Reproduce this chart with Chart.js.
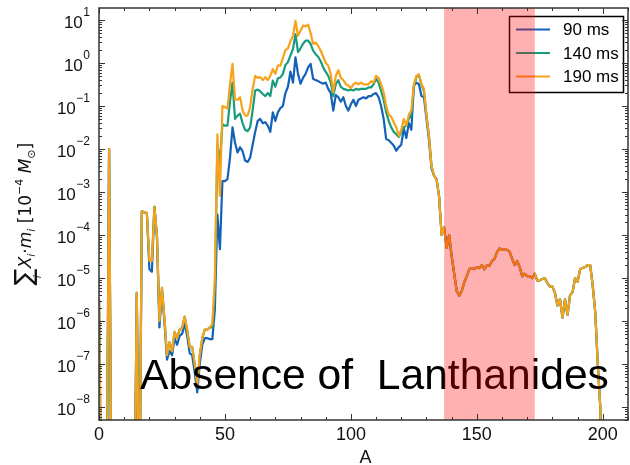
<!DOCTYPE html>
<html>
<head>
<meta charset="utf-8">
<script src="https://cdn.jsdelivr.net/npm/chart.js@4.4.1/dist/chart.umd.min.js"></script>
<style>
  html, body { margin: 0; padding: 0; background: #fff; }
</style>
</head>
<body>
<canvas id="chart" width="630" height="465"></canvas>
<script>
// mass number A (x axis)
const massNumbers = Array.from({ length: 201 }, (_, i) => i)

// sum X_i * m_i  [1e-4 Msun], one value per A
// 1e-11 means "below the axis"
const abund90 = [
  3.2e-6, 1e-11, 1e-11, 1e-11, 1.0e-2, 1e-11, 1e-11, 1e-11, 1e-11, 1e-11,
  1e-11, 1e-11, 1e-11, 1e-11, 1e-11, 4.5e-6, 1e-11, 3.5e-4, 3.4e-4, 3.2e-4,
  1.6e-5, 1.4e-5, 4.5e-4, 9.0e-5, 7.1e-7, 5.0e-6, 9.0e-7, 1.26e-7, 2.0e-7, 1.6e-7,
  4.0e-7, 2.8e-7, 4.5e-7, 5.0e-7, 8.9e-7, 4.5e-7, 1.8e-7, 1.6e-7, 6.3e-8, 2.2e-8,
  1.0e-7, 2.8e-7, 4.0e-7, 4.0e-7, 3.8e-7, 3.8e-7, 1.9e-6, 3.0e-4, 4.7e-5, 1.8e-3,
  1.8e-3, 2.0e-3, 6.3e-3, 0.032, 0.014, 8.3e-3, 0.011, 8.9e-3, 5.4e-3, 5.0e-3,
  6.3e-3, 0.0126, 0.025, 0.045, 0.050, 0.040, 0.042, 0.035, 0.025, 0.071,
  0.045, 0.071, 0.089, 0.10, 0.20, 0.28, 0.63, 0.35, 1.35, 0.56,
  0.33, 0.45, 0.56, 0.79, 0.95, 0.43, 0.40, 0.38, 0.35, 0.33,
  0.35, 0.25, 0.20, 0.078, 0.18, 0.16, 0.126, 0.16, 0.10, 0.078,
  0.11, 0.14, 0.10, 0.14, 0.15, 0.16, 0.15, 0.17, 0.17, 0.19,
  0.20, 0.16, 0.10, 0.050, 0.017, 0.016, 0.014, 0.012, 9.1e-3, 0.011,
  0.0126, 0.030, 0.018, 0.040, 0.028, 0.30, 0.35, 0.32, 0.17, 0.16,
  0.050, 0.016, 3.5e-3, 2.4e-3, 2.0e-3, 7.9e-4, 1.0e-4, 1.5e-4, 5.0e-5, 1.0e-4,
  3.2e-5, 1.26e-5, 5.0e-6, 3.9e-6, 5.0e-6, 7.9e-6, 1.1e-5, 1.6e-5, 1.7e-5, 1.6e-5,
  1.8e-5, 1.7e-5, 2.0e-5, 1.6e-5, 2.0e-5, 1.9e-5, 2.5e-5, 2.8e-5, 4.0e-5, 4.9e-5,
  4.5e-5, 4.7e-5, 4.5e-5, 4.1e-5, 2.8e-5, 2.0e-5, 2.5e-5, 1.8e-5, 1.1e-5, 1.26e-5,
  1.1e-5, 1.1e-5, 1.0e-5, 1.26e-5, 8.7e-6, 8.9e-6, 9.5e-6, 1.0e-5, 7.6e-6, 6.3e-6,
  6.3e-6, 4.5e-6, 2.3e-6, 3.2e-6, 1.2e-6, 3.2e-6, 1.4e-6, 4.0e-6, 4.7e-6, 1.0e-5,
  8.3e-6, 1.6e-5, 1.7e-5, 1.8e-5, 2.0e-5, 2.0e-5, 6.6e-6, 1.6e-6, 1.0e-7, 1.0e-8,
  1e-11
]

const abund140 = [
  3.2e-6, 1e-11, 1e-11, 1e-11, 1.0e-2, 1e-11, 1e-11, 1e-11, 1e-11, 1e-11,
  1e-11, 1e-11, 1e-11, 1e-11, 1e-11, 4.5e-6, 1e-11, 3.5e-4, 3.4e-4, 3.2e-4,
  2.5e-5, 2.5e-5, 4.5e-4, 1.0e-4, 1.0e-6, 5.9e-6, 1.1e-6, 1.6e-7, 3.2e-7, 2.0e-7,
  5.6e-7, 4.0e-7, 6.3e-7, 6.9e-7, 1.26e-6, 6.3e-7, 2.5e-7, 2.5e-7, 1.0e-7, 3.2e-8,
  1.6e-7, 4.0e-7, 6.3e-7, 6.3e-7, 7.1e-7, 7.1e-7, 5.0e-6, 1.26e-2, 5.0e-3, 0.038,
  0.035, 0.035, 0.126, 0.35, 0.050, 0.060, 0.066, 0.040, 0.028, 0.026,
  0.032, 0.079, 0.23, 0.24, 0.22, 0.19, 0.17, 0.20, 0.17, 0.39,
  0.28, 0.44, 0.46, 0.56, 0.89, 1.05, 1.5, 2.1, 4.7, 1.8,
  2.2, 2.8, 3.3, 3.3, 2.8, 1.95, 1.6, 1.4, 1.1, 0.79,
  0.62, 0.50, 0.35, 0.17, 0.32, 0.40, 0.28, 0.25, 0.24, 0.23,
  0.24, 0.23, 0.25, 0.24, 0.25, 0.25, 0.25, 0.27, 0.27, 0.32,
  0.43, 0.35, 0.22, 0.14, 0.071, 0.045, 0.032, 0.025, 0.022, 0.019,
  0.025, 0.032, 0.035, 0.050, 0.063, 0.28, 0.48, 0.52, 0.32, 0.22,
  0.060, 0.020, 4.0e-3, 2.4e-3, 2.0e-3, 7.9e-4, 1.0e-4, 1.5e-4, 5.0e-5, 1.0e-4,
  3.2e-5, 1.26e-5, 5.0e-6, 3.9e-6, 5.0e-6, 7.9e-6, 1.1e-5, 1.6e-5, 1.7e-5, 1.6e-5,
  1.8e-5, 1.7e-5, 2.0e-5, 1.6e-5, 2.0e-5, 1.9e-5, 2.5e-5, 2.8e-5, 4.0e-5, 4.9e-5,
  4.5e-5, 4.7e-5, 4.5e-5, 4.1e-5, 2.8e-5, 2.0e-5, 2.5e-5, 1.8e-5, 1.1e-5, 1.26e-5,
  1.1e-5, 1.1e-5, 1.0e-5, 1.26e-5, 8.7e-6, 8.9e-6, 9.5e-6, 1.0e-5, 7.6e-6, 6.3e-6,
  6.3e-6, 4.5e-6, 2.3e-6, 3.2e-6, 1.2e-6, 3.2e-6, 1.4e-6, 4.0e-6, 4.7e-6, 1.0e-5,
  8.3e-6, 1.6e-5, 1.7e-5, 1.8e-5, 2.0e-5, 2.0e-5, 6.6e-6, 1.6e-6, 1.0e-7, 1.0e-8,
  1e-11
]

const abund190 = [
  3.2e-6, 1e-11, 1e-11, 1e-11, 1.0e-2, 1e-11, 1e-11, 1e-11, 1e-11, 1e-11,
  1e-11, 1e-11, 1e-11, 1e-11, 1e-11, 4.5e-6, 1e-11, 3.5e-4, 3.4e-4, 3.2e-4,
  2.5e-5, 2.5e-5, 4.5e-4, 1.0e-4, 1.0e-6, 5.9e-6, 1.1e-6, 1.6e-7, 3.2e-7, 2.0e-7,
  5.6e-7, 4.0e-7, 6.3e-7, 6.9e-7, 1.26e-6, 6.3e-7, 2.5e-7, 2.5e-7, 1.0e-7, 3.2e-8,
  1.6e-7, 4.0e-7, 6.3e-7, 6.3e-7, 7.1e-7, 8.5e-7, 1.0e-5, 2.2e-2, 8.1e-4, 0.10,
  0.095, 0.087, 0.32, 0.95, 0.14, 0.14, 0.16, 0.079, 0.060, 0.060,
  0.093, 0.25, 0.50, 0.45, 0.47, 0.40, 0.47, 0.40, 0.50, 0.72,
  0.56, 0.87, 0.87, 1.3, 2.0, 2.2, 3.2, 4.3, 9.5, 4.3,
  5.6, 7.4, 7.1, 7.8, 5.0, 2.8, 3.0, 2.5, 1.95, 1.4,
  1.0, 0.87, 0.56, 0.21, 0.50, 0.68, 0.45, 0.40, 0.32, 0.30,
  0.26, 0.32, 0.35, 0.32, 0.35, 0.32, 0.32, 0.32, 0.38, 0.35,
  0.50, 0.45, 0.32, 0.21, 0.10, 0.063, 0.056, 0.042, 0.032, 0.020,
  0.028, 0.050, 0.035, 0.063, 0.079, 0.32, 0.50, 0.55, 0.32, 0.25,
  0.060, 0.020, 4.0e-3, 2.4e-3, 2.0e-3, 7.9e-4, 1.0e-4, 1.5e-4, 5.0e-5, 1.0e-4,
  3.2e-5, 1.26e-5, 5.0e-6, 3.9e-6, 5.0e-6, 7.9e-6, 1.1e-5, 1.6e-5, 1.7e-5, 1.6e-5,
  1.8e-5, 1.7e-5, 2.0e-5, 1.6e-5, 2.0e-5, 1.9e-5, 2.5e-5, 2.8e-5, 4.0e-5, 4.9e-5,
  4.5e-5, 4.7e-5, 4.5e-5, 4.1e-5, 2.8e-5, 2.0e-5, 2.5e-5, 1.8e-5, 1.1e-5, 1.26e-5,
  1.1e-5, 1.1e-5, 1.0e-5, 1.26e-5, 8.7e-6, 8.9e-6, 9.5e-6, 1.0e-5, 7.6e-6, 6.3e-6,
  6.3e-6, 4.5e-6, 2.3e-6, 3.2e-6, 1.2e-6, 3.2e-6, 1.4e-6, 4.0e-6, 4.7e-6, 1.0e-5,
  8.3e-6, 1.6e-5, 1.7e-5, 1.8e-5, 2.0e-5, 2.0e-5, 6.6e-6, 1.6e-6, 1.0e-7, 1.0e-8,
  1e-11
]

const seriesLabels = ['90 ms', '140 ms', '190 ms']
const seriesColors = ['#1461b8', '#179c7d', '#f7a21b']
const xTickLabels = [0, 50, 100, 150, 200]
const yTickExponents = [1, 0, -1, -2, -3, -4, -5, -6, -7, -8]
const lanthanideRange = [137, 173]

const toPoints = vals => massNumbers.map((a, i) => ({ x: a, y: vals[i] }))

// everything that is not a line: frame, inward ticks, labels, legend, band
const overlay = {
    id: 'overlay',
    afterDraw(chart) {
        const { ctx, chartArea: ca } = chart
        const xs = chart.scales.x
        const ys = chart.scales.y
        ctx.save()

        // big annotation
        ctx.fillStyle = '#000'
        ctx.font = '42.6px "Liberation Sans"'
        ctx.textAlign = 'left'
        ctx.textBaseline = 'alphabetic'
        ctx.fillText('Absence of  Lanthanides', 140, 389)

        // legend box
        ctx.strokeStyle = '#000'
        ctx.lineWidth = 1.5
        ctx.strokeRect(509.5, 16.5, 114, 76)
        ctx.font = '17px "Liberation Sans"'
        ctx.textBaseline = 'middle'
        seriesLabels.forEach((lbl, i) => {
            const ly = 29.5 + i * 23.5
            ctx.strokeStyle = seriesColors[i]
            ctx.lineWidth = 2.2
            ctx.beginPath()
            ctx.moveTo(516, ly)
            ctx.lineTo(550, ly)
            ctx.stroke()
            ctx.fillStyle = '#000'
            ctx.fillText(lbl, 563, ly + 1)
        })

        // shaded lanthanide band (on top of everything, like the original)
        const bx0 = xs.getPixelForValue(lanthanideRange[0])
        const bx1 = xs.getPixelForValue(lanthanideRange[1])
        ctx.fillStyle = 'rgba(255, 0, 0, 0.31)'
        ctx.fillRect(bx0, ca.top, bx1 - bx0, ca.bottom - ca.top)

        // frame
        ctx.strokeStyle = '#333'
        ctx.lineWidth = 1.5
        ctx.strokeRect(ca.left, ca.top, ca.right - ca.left, ca.bottom - ca.top)

        // x ticks, every 10, inward, bottom and top
        ctx.lineWidth = 1
        ctx.beginPath()
        for (let a = 0; a <= xs.max; a += 10) {
            const px = Math.round(xs.getPixelForValue(a)) + 0.5
            const len = a % 50 === 0 ? 6 : 3
            ctx.moveTo(px, ca.bottom); ctx.lineTo(px, ca.bottom - len)
            ctx.moveTo(px, ca.top); ctx.lineTo(px, ca.top + len)
        }
        // y ticks, decades long, 2..9 short
        for (let e = -9; e <= 1; e++) {
            for (let m = 1; m <= 9; m++) {
                const v = m * Math.pow(10, e)
                if (v < ys.min || v > ys.max) continue
                const py = Math.round(ys.getPixelForValue(v)) + 0.5
                const len = m === 1 ? 6 : 3
                ctx.moveTo(ca.left, py); ctx.lineTo(ca.left + len, py)
                ctx.moveTo(ca.right, py); ctx.lineTo(ca.right - len, py)
            }
        }
        ctx.stroke()

        // x tick labels
        ctx.fillStyle = '#111'
        ctx.font = '18px "Liberation Sans"'
        ctx.textAlign = 'center'
        ctx.textBaseline = 'alphabetic'
        xTickLabels.forEach(v => {
            ctx.fillText(String(v), xs.getPixelForValue(v), 440)
        })
        ctx.fillText('A', (ca.left + ca.right) / 2 + 2, 463)

        // y tick labels 10^e
        ctx.textAlign = 'right'
        yTickExponents.forEach(e => {
            const py = ys.getPixelForValue(Math.pow(10, e))
            const ex = e < 0 ? '\u2212' + Math.abs(e) : String(e)
            ctx.font = '12px "Liberation Sans"'
            const ew = ctx.measureText(ex).width
            ctx.fillText(ex, 90, py - 4)
            ctx.font = '17px "Liberation Sans"'
            ctx.fillText('10', 90 - ew - 0.5, py + 8)
        })

        // y axis label, rotated, with sub/superscripts
        const segs = [
            { t: '\u2211', f: '25px "DejaVu Sans"', dy: 1 },
            { t: 'i', f: 'italic 11px "DejaVu Sans"', dy: 10, under: true },
            { t: 'X', f: 'italic 17px "DejaVu Sans"', dy: 0 },
            { t: 'i', f: 'italic 11px "DejaVu Sans"', dy: 4 },
            { t: '\u00b7', f: '17px "DejaVu Sans"', dy: 0 },
            { t: 'm', f: 'italic 17px "DejaVu Sans"', dy: 0 },
            { t: 'i', f: 'italic 11px "DejaVu Sans"', dy: 4 },
            { t: ' [10', f: '17px "DejaVu Sans"', dy: 0 },
            { t: '\u22124', f: '11px "DejaVu Sans"', dy: -8 },
            { t: ' ', f: '17px "DejaVu Sans"', dy: 0 },
            { t: 'M', f: 'italic 17px "DejaVu Sans"', dy: 0 },
            { t: '\u2299', f: '11px "DejaVu Sans"', dy: 4 },
            { t: ']', f: '17px "DejaVu Sans"', dy: 0 }
        ]
        ctx.translate(31, 214)
        ctx.rotate(-Math.PI / 2)
        ctx.textAlign = 'left'
        ctx.fillStyle = '#111'
        let total = 0
        segs.forEach(s => {
            ctx.font = s.f
            s.w = ctx.measureText(s.t).width
            if (!s.under) total += s.w
        })
        let cx = -total / 2
        let prevW = 0
        segs.forEach(s => {
            ctx.font = s.f
            if (s.under) {
                ctx.fillText(s.t, cx - prevW / 2 - s.w / 2, s.dy)
            } else {
                ctx.fillText(s.t, cx, s.dy)
                cx += s.w
                prevW = s.w
            }
        })
        ctx.restore()
    }
}

new Chart(document.getElementById('chart'), {
    type: 'line',
    data: {
        datasets: [
            { label: seriesLabels[0], data: toPoints(abund90), borderColor: seriesColors[0], order: 3 },
            { label: seriesLabels[1], data: toPoints(abund140), borderColor: seriesColors[1], order: 2 },
            { label: seriesLabels[2], data: toPoints(abund190), borderColor: seriesColors[2], order: 1 }
        ]
    },
    options: {
        responsive: false,
        animation: false,
        devicePixelRatio: 1,
        layout: { padding: { left: 99, right: 2, top: 8, bottom: 45 } },
        elements: {
            point: { radius: 0 },
            line: { borderWidth: 2.2, tension: 0, fill: false, borderJoinStyle: 'round' }
        },
        scales: {
            x: { type: 'linear', min: 0, max: 210, display: false },
            y: { type: 'logarithmic', min: 5e-9, max: 19, display: false }
        },
        plugins: {
            legend: { display: false },
            tooltip: { enabled: false }
        }
    },
    plugins: [overlay]
})
</script>
</body>
</html>
